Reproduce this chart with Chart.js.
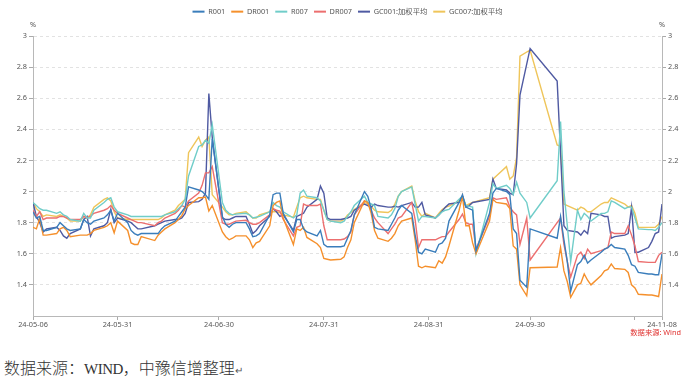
<!DOCTYPE html>
<html><head><meta charset="utf-8">
<script src="https://cdn.jsdelivr.net/npm/chart.js@4.4.1/dist/chart.umd.min.js"></script>
<style>
html,body{margin:0;padding:0;background:#fff;}
body{width:695px;height:390px;position:relative;overflow:hidden;}
#wrap{position:absolute;left:0;top:0;width:695px;height:345px;}
#cap{position:absolute;left:4px;top:359px;font-family:"Noto Sans CJK SC",sans-serif;font-weight:300;font-size:16px;line-height:16px;color:#333;white-space:nowrap;}
#cap .m{font-family:"Liberation Serif",serif;font-size:15px;letter-spacing:-0.5px;}
#cap .r{font-size:10px;color:#555;}
</style></head><body>
<div id="wrap"><canvas id="c" width="695" height="345"></canvas></div>
<div id="cap">数据来源：<span class="m">WIND</span>，中豫信增整理<span class="r">↵</span></div>
<script>
const dates = [
'2024-05-06','2024-05-07','2024-05-08','2024-05-09','2024-05-10',
'2024-05-13','2024-05-14','2024-05-15','2024-05-16','2024-05-17',
'2024-05-20','2024-05-21','2024-05-22','2024-05-23','2024-05-24',
'2024-05-27','2024-05-28','2024-05-29','2024-05-30','2024-05-31',
'2024-06-03','2024-06-04','2024-06-05','2024-06-06','2024-06-07',
'2024-06-11','2024-06-12','2024-06-13','2024-06-14',
'2024-06-17','2024-06-18','2024-06-19','2024-06-20','2024-06-21',
'2024-06-24','2024-06-25','2024-06-26','2024-06-27','2024-06-28',
'2024-07-01','2024-07-02','2024-07-03','2024-07-04','2024-07-05',
'2024-07-08','2024-07-09','2024-07-10','2024-07-11','2024-07-12',
'2024-07-15','2024-07-16','2024-07-17','2024-07-18','2024-07-19',
'2024-07-22','2024-07-23','2024-07-24','2024-07-25','2024-07-26',
'2024-07-29','2024-07-30','2024-07-31',
'2024-08-01','2024-08-02',
'2024-08-05','2024-08-06','2024-08-07','2024-08-08','2024-08-09',
'2024-08-12','2024-08-13','2024-08-14','2024-08-15','2024-08-16',
'2024-08-19','2024-08-20','2024-08-21','2024-08-22','2024-08-23',
'2024-08-26','2024-08-27','2024-08-28','2024-08-29','2024-08-30',
'2024-09-02','2024-09-03','2024-09-04','2024-09-05','2024-09-06',
'2024-09-09','2024-09-10','2024-09-11','2024-09-12','2024-09-13','2024-09-14',
'2024-09-18','2024-09-19','2024-09-20',
'2024-09-23','2024-09-24','2024-09-25','2024-09-26','2024-09-27','2024-09-29','2024-09-30',
'2024-10-08','2024-10-09','2024-10-10','2024-10-11','2024-10-12',
'2024-10-14','2024-10-15','2024-10-16','2024-10-17','2024-10-18',
'2024-10-21','2024-10-22','2024-10-23','2024-10-24','2024-10-25',
'2024-10-28','2024-10-29','2024-10-30','2024-10-31',
'2024-11-01',
'2024-11-04','2024-11-05','2024-11-06','2024-11-07','2024-11-08'
];

const r001 = [
1.87,1.83,1.84,1.75,1.75, 1.77,1.80,1.78,1.76,1.75, 1.76,1.82,1.80,1.79,1.81, 1.83,1.85,1.88,1.81,1.86,
1.80,1.75,1.73,1.72,1.73, 1.73,1.73,1.76,1.78, 1.81,1.84,1.87,1.90,2.03, 2.01,2.00,1.98,1.95,2.34,
1.84,1.79,1.77,1.79,1.80, 1.80,1.76,1.71,1.715,1.73, 1.85,1.98,1.99,1.99,1.86, 1.74,1.82,1.82,1.76,1.74, 1.715,1.75,1.66,
1.645,1.645, 1.645,1.65,1.70,1.75,1.85, 2.00,1.97,1.89,1.77,1.76, 1.75,1.79,1.83,1.88,1.91, 1.86,1.72,1.61,1.60,1.63,
1.61,1.66,1.67,1.70,1.81, 1.93,1.98,1.90,1.89,1.88,1.62, 1.86,1.99,2.02, 2.00,1.98,1.76,1.73,1.43,1.385,1.76,
1.70,1.84,1.69,1.55,1.36, 1.53,1.55,1.59,1.54,1.56, 1.61,1.63,1.64,1.66,1.64, 1.63,1.59,1.53,1.52,
1.48, 1.47,1.47,1.465,1.465,1.60
];
const dr001 = [
1.77,1.76,1.83,1.72,1.72, 1.73,1.76,1.77,1.75,1.71, 1.72,1.72,1.72,1.73,1.75, 1.77,1.78,1.80,1.735,1.81,
1.75,1.67,1.66,1.66,1.71, 1.685,1.72,1.74,1.76, 1.80,1.82,1.845,1.89,1.91, 1.96,1.96,1.965,1.875,1.91,
1.74,1.71,1.69,1.70,1.715, 1.715,1.69,1.64,1.67,1.68, 1.78,1.91,1.93,1.94,1.83, 1.66,1.76,1.75,1.77,1.705, 1.665,1.64,1.57,
1.565,1.56, 1.565,1.58,1.64,1.69,1.80, 1.94,1.93,1.86,1.75,1.70, 1.68,1.70,1.73,1.78,1.81, 1.83,1.69,1.52,1.51,1.52,
1.51,1.555,1.54,1.58,1.65, 1.88,1.97,1.78,1.78,1.67,1.60, 1.81,1.95,1.93, 1.92,1.89,1.65,1.63,1.40,1.33,1.51,
1.515,1.64,1.49,1.42,1.32, 1.40,1.41,1.47,1.43,1.40, 1.46,1.49,1.50,1.535,1.505, 1.50,1.48,1.40,1.38,
1.34, 1.335,1.335,1.33,1.325,1.47
];
const r007 = [
1.93,1.91,1.89,1.88,1.88, 1.86,1.87,1.85,1.84,1.82, 1.81,1.86,1.83,1.83,1.88, 1.93,1.95,1.96,1.90,1.87,
1.85,1.84,1.84,1.84,1.84, 1.84,1.84,1.84,1.85, 1.87,1.89,1.91,1.95,2.10, 2.29,2.30,2.33,2.31,2.43,
1.93,1.88,1.86,1.85,1.855, 1.86,1.85,1.83,1.835,1.84, 1.87,1.93,1.91,1.90,1.87, 1.83,1.85,1.99,2.01,1.97, 1.96,1.94,1.88,
1.82,1.81, 1.80,1.81,1.84,1.87,1.91, 1.97,1.93,1.92,1.91,1.84, 1.83,1.85,1.89,1.97,2.00, 2.03,1.92,1.81,1.84,1.84,
1.83,1.85,1.87,1.88,1.885, 1.95,1.97,1.91,1.905,1.90,1.60, 1.93,2.05,2.02, 2.04,2.02,1.98,2.06,1.99,1.93,1.83,
2.07,2.45,2.00,1.78,1.55, 1.88,1.82,1.86,1.84,1.81, 1.86,1.86,1.87,1.94,1.93, 1.89,1.90,1.90,1.83,
1.76, 1.755,1.755,1.75,1.77,1.80
];
const dr007 = [
1.88,1.84,1.87,1.82,1.83, 1.83,1.84,1.84,1.83,1.82, 1.82,1.84,1.83,1.84,1.86, 1.88,1.89,1.91,1.88,1.86,
1.83,1.82,1.81,1.80,1.80, 1.78,1.80,1.81,1.83, 1.86,1.88,1.91,1.90,1.94, 1.99,2.04,2.12,2.12,2.16,
1.80,1.79,1.79,1.80,1.81, 1.815,1.80,1.79,1.79,1.80, 1.85,1.89,1.88,1.875,1.82, 1.715,1.77,1.78,1.92,1.91, 1.91,1.92,1.78,
1.69,1.69, 1.69,1.695,1.71,1.74,1.85, 1.94,1.93,1.88,1.83,1.80, 1.73,1.76,1.79,1.83,1.84, 1.93,1.82,1.64,1.69,1.69,
1.69,1.70,1.71,1.71,1.74, 1.82,1.855,1.80,1.79,1.79,1.63, 1.84,1.96,1.95, 1.96,1.90,1.87,1.85,1.66,1.83,1.56,
1.80,1.83,1.66,1.55,1.45, 1.59,1.61,1.57,1.63,1.60, 1.62,1.63,1.64,1.74,1.73, 1.73,1.78,1.72,1.65,
1.55, 1.545,1.545,1.545,1.59,1.61
];
const gc001 = [
1.93,1.84,1.80,1.74,1.76, 1.77,1.75,1.715,1.70,1.73, 1.76,1.82,1.84,1.715,1.76, 1.78,1.80,1.885,1.80,1.83,
1.81,1.80,1.78,1.76,1.76, 1.78,1.79,1.80,1.81, 1.82,1.82,1.83,1.86,1.93, 1.935,1.95,1.99,2.63,2.35,
1.83,1.82,1.82,1.83,1.84, 1.84,1.79,1.73,1.75,1.78, 1.84,1.89,1.87,1.84,1.85, 1.75,1.84,1.85,1.86,1.90, 1.95,2.035,1.99,
1.83,1.82, 1.82,1.825,1.83,1.84,1.88, 1.92,1.91,1.90,1.92,1.91, 1.90,1.90,1.905,1.90,1.91, 1.93,1.90,1.90,1.93,1.85,
1.83,1.85,1.875,1.90,1.92, 1.93,1.97,1.90,1.91,1.93,null, 1.95,2.08,2.02, 2.01,1.99,1.98,2.18,2.62,null,2.92,
2.71,2.25,1.78,1.75,null, 1.74,1.72,1.75,1.73,1.86, 1.85,1.84,1.84,1.70,1.71, 1.72,1.73,1.90,1.61,
1.61, 1.64,1.68,1.73,1.74,1.92
];
const gc007 = [
1.93,1.89,1.87,1.84,1.85, 1.84,1.85,1.84,1.83,1.81, 1.81,1.84,1.83,1.85,1.90, 1.95,1.96,1.94,1.87,1.83,
1.82,1.82,1.82,1.82,1.82, 1.82,1.82,1.83,1.85, 1.88,1.91,1.93,1.95,2.25, 2.35,2.29,2.33,2.35,1.98,
1.90,1.87,1.85,1.85,1.86, 1.87,1.85,1.83,1.83,1.85, 1.87,1.87,1.87,1.865,1.85, 1.835,1.90,1.96,1.97,1.96, 1.95,1.95,1.88,
1.82,1.81, 1.81,1.82,1.85,1.865,1.885, 1.93,1.92,1.905,1.88,1.87, 1.865,1.88,1.92,1.97,2.00, 2.035,1.94,1.87,1.84,1.86,
1.83,1.86,1.885,1.90,1.907, 1.94,1.97,1.91,1.92,1.93,null, 1.96,2.08,2.10, 2.16,2.08,2.10,2.22,2.87,null,2.91,
2.30,2.29,1.92,1.91,null, 1.88,1.90,1.89,1.87,1.87, 1.92,1.93,1.93,1.96,1.95, 1.92,1.90,1.91,1.86,
1.77, 1.77,1.77,1.77,1.79,1.84
];

const seriesNames = ['R001','DR001','R007','DR007','GC001:加权平均','GC007:加权平均'];
const seriesColors = ['#3a7dbb','#f5902c','#70cdc9','#ec6f6f','#4f5aa2','#efc55a'];
const xTickDates = ['2024-05-06','2024-05-31','2024-06-30','2024-07-31','2024-08-31','2024-09-30','2024-10-31','2024-11-08'];
const xTickLabels = ['24-05-06','24-05-31','24-06-30','24-07-31','24-08-31','24-09-30','','24-11-08'];
const yTicks = [1.4,1.6,1.8,2.0,2.2,2.4,2.6,2.8,3.0];
const yMin = 1.2, yMax = 3;
const unitLabel = '%';
const sourceNote = '数据来源: Wind';

const FONT = "'Noto Sans','Noto Sans CJK SC',sans-serif";
Chart.defaults.font.family = FONT;
const t0 = Date.UTC(2024,4,6);
function dayOf(s){const p=s.split('-').map(Number);return (Date.UTC(p[0],p[1]-1,p[2])-t0)/864e5;}
const xs = dates.map(dayOf);
const values = [r001,dr001,r007,dr007,gc001,gc007];

const datasets = values.map((arr,k)=>({
  label: seriesNames[k],
  data: arr.map((v,i)=>({x:xs[i], y:v})),
  borderColor: seriesColors[k], backgroundColor: seriesColors[k],
  borderWidth: 1.4, pointRadius: 0, pointHoverRadius: 0, tension: 0, spanGaps: true, yAxisID: 'y'
}));

const fitLegend = { id:'fitLegend', beforeUpdate(chart){ const lg = chart.legend; if (lg && !lg._fixed){ const f = lg.fit; lg.fit = function(){ f.call(this); this.height = 34; }; lg._fixed = true; } } };
const extras = { id:'extras', afterDraw(chart){
  const {ctx, chartArea:a} = chart;
  ctx.save();
  ctx.font = '7.3px ' + FONT; ctx.fillStyle = '#555'; ctx.textAlign = 'center'; ctx.textBaseline = 'middle';
  ctx.fillText(unitLabel, a.left, a.top - 11);
  ctx.fillText(unitLabel, a.right, a.top - 11);
  ctx.fillStyle = '#e0312f'; ctx.textAlign = 'right';
  ctx.fillText(sourceNote, 681, 333);
  ctx.restore();
}};

const yCommon = (pos, grid) => ({
  type:'linear', position:pos, min:yMin, max:yMax,
  afterBuildTicks: ax => { ax.ticks = yTicks.map(v=>({value:v})); },
  afterFit: ax => { ax.width = 33; },
  ticks:{ color:'#555', font:{size:7.3}, padding:2, callback: v => String(Math.round(v*10)/10) },
  grid:{ drawOnChartArea:grid, color:'#e2e2e2', lineWidth:1, drawTicks:true, tickLength:4, tickColor:'#aaa', tickBorderDash:[] },
  border:{ display:true, color:'#b8b8b8', width:1, dash:[3,3] }
});

new Chart(document.getElementById('c'), {
  type:'line',
  data:{ datasets },
  plugins:[fitLegend, extras],
  options:{
    responsive:false, animation:false, devicePixelRatio:1, events:[],
    layout:{ padding:{ top:2, left:0, right:0, bottom:0 } },
    plugins:{
      legend:{ display:true, position:'top', align:'center',
        labels:{ boxWidth:12, boxHeight:2, padding:6, color:'#555', font:{size:7.3},
          generateLabels: chart => chart.data.datasets.map((ds,i)=>({ text: ds.label, fillStyle: ds.borderColor, strokeStyle: ds.borderColor, lineWidth:0, hidden:false, datasetIndex:i, fontColor:'#555' })) } },
      tooltip:{ enabled:false }
    },
    scales:{
      x:{ type:'linear', min: dayOf(dates[0]), max: dayOf(dates[dates.length-1]),
        afterBuildTicks: ax => { ax.ticks = xTickDates.map(d=>({value:dayOf(d)})); },
        afterFit: ax => { ax.height = 29; },
        ticks:{ color:'#555', font:{size:7.3}, maxRotation:0, autoSkip:false, padding:1, callback:(v,i)=>xTickLabels[i] },
        grid:{ drawOnChartArea:false, drawTicks:true, tickLength:4, tickColor:'#aaa' },
        border:{ color:'#b8b8b8', width:1 }
      },
      y: yCommon('left', true),
      y1: yCommon('right', false)
    }
  }
});
</script></body></html>
